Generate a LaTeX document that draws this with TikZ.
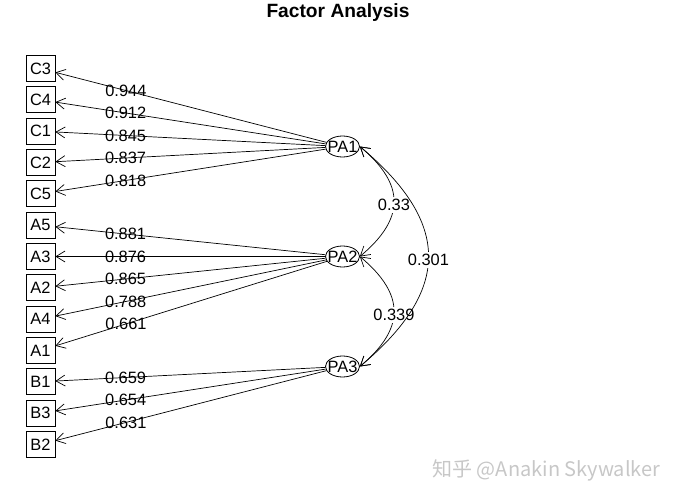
\documentclass[tikz,border=0pt]{standalone}
\usepackage{fontspec}
\setmainfont{Liberation Sans}
\newfontfamily\cjkfont{Noto Sans CJK SC}
\usetikzlibrary{arrows.meta,shapes.geometric}
\begin{document}
\begin{tikzpicture}[x=1pt,y=1pt,
  txt/.style={font=\fontsize{16.4}{16.4}\selectfont},
  var/.style={txt, draw, rectangle, minimum width=29pt, minimum height=26pt, inner sep=0pt, line width=0.8pt},
  fac/.style={txt, draw, ellipse, minimum width=34pt, minimum height=21pt, inner sep=0pt, line width=0.8pt},
  load/.style={-{Straight Barb[length=9pt,width=11pt]}, line width=0.7pt},
  lbl/.style={txt, inner sep=0pt, pos=0.74},
  corr/.style={{Straight Barb[length=9pt,width=11pt]}-{Straight Barb[length=9pt,width=11pt]}, line width=0.7pt},
  clbl/.style={txt, fill=white, inner sep=2.5pt, pos=0.5, yshift=-3.5pt},
]
\useasboundingbox (0,0) rectangle (678,-503);
\node[font=\bfseries\fontsize{19.2}{19.2}\selectfont, anchor=base] (title) at (338,-17.5) {Factor Analysis};
\foreach \n/\y in {C3/68.5,C4/99.8,C1/131.2,C2/162.5,C5/193.8,A5/225.2,A3/256.5,A2/287.8,A4/319.2,A1/350.5,B1/381.8,B3/413.2,B2/444.5}
  \node[var] (\n) at (40.5,-\y) {\n};
\node[fac] (PA1) at (342.5,-146.5) {\makebox[0pt]{PA1}};
\node[fac] (PA2) at (342.5,-256.5) {\makebox[0pt]{PA2}};
\node[fac] (PA3) at (342.5,-366.5) {\makebox[0pt]{PA3}};
\foreach \f/\v/\l in {PA1/C3/0.944,PA1/C4/0.912,PA1/C1/0.845,PA1/C2/0.837,PA1/C5/0.818,
  PA2/A5/0.881,PA2/A3/0.876,PA2/A2/0.865,PA2/A4/0.788,PA2/A1/0.661,
  PA3/B1/0.659,PA3/B3/0.654,PA3/B2/0.631}
  \draw[load] (\f) -- (\v) node[lbl] {\l};
\draw[corr] (PA1.east) to[out=-40,in=40,looseness=1.38] node[clbl] {0.33} (PA2.east);
\draw[corr] (PA2.east) to[out=-40,in=40,looseness=1.38] node[clbl] {0.339} (PA3.east);
\draw[corr] (PA1.east) to[out=-40,in=40,looseness=1.39] node[clbl] {0.301} (PA3.east);
\node[anchor=west, text=black!22, font=\cjkfont\fontsize{20}{20}\selectfont] (wm) at (429,-470) {知乎 @Anakin Skywalker};
\end{tikzpicture}
\end{document}
